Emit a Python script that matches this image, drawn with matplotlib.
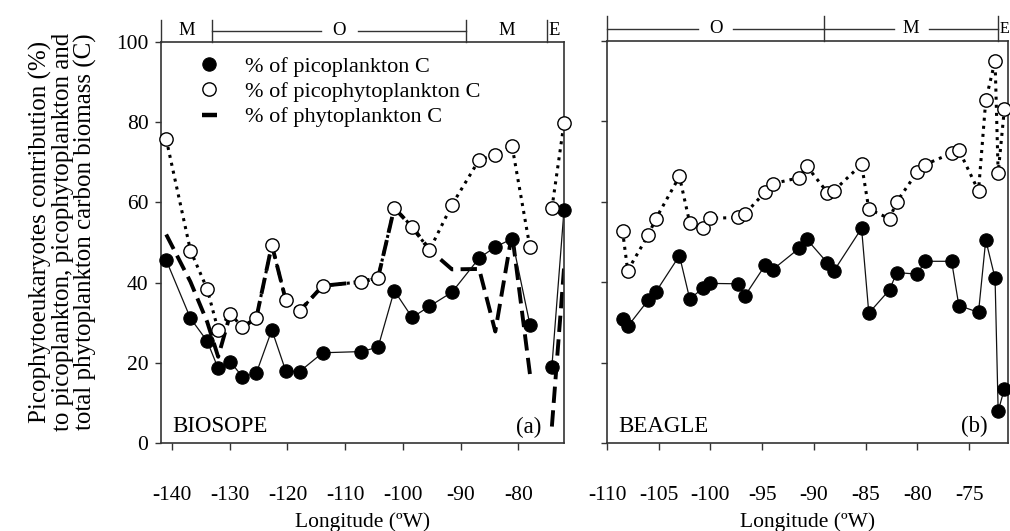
import matplotlib
matplotlib.use('Agg')
import matplotlib.pyplot as plt
import numpy as np
from matplotlib.lines import Line2D

plt.rcParams['font.family'] = ['Liberation Serif', 'DejaVu Serif']
plt.rcParams['axes.unicode_minus'] = False

# ---------------- data ----------------
# (a) BIOSOPE
lon_a = [-141.0, -136.8, -133.9, -132.0, -129.9, -127.8, -125.4, -122.7, -120.3,
         -117.9, -113.9, -107.2, -104.3, -101.5, -98.4, -95.4, -91.5, -86.8,
         -84.0, -81.1, -78.0, -74.2, -72.1]
pico_a = [45.6, 31.1, 25.4, 18.6, 20.3, 16.5, 17.4, 28.2, 18.0, 17.8, 22.5, 22.8,
          23.9, 38.0, 31.3, 34.1, 37.6, 46.1, 48.9, 50.9, 29.5, 19.0, 58.1]
picophyto_a = [75.8, 48.0, 38.4, 28.1, 32.2, 28.9, 31.1, 49.4, 35.7, 32.9, 39.2,
               40.2, 41.2, 58.7, 53.9, 48.1, 59.4, 70.6, 71.8, 74.1, 48.8, 58.5, 79.7]
phyto_a = [52.0, 40.2, 30.2, 21.5, 32.2, 28.9, 31.1, 49.4, 35.7, 32.9, 39.2, 40.2,
           41.2, 58.6, 53.9, 48.2, 43.3, 43.4, 27.8, 52.3, 17.2, 4.1, 43.5]
gap_lon_a = -76.0   # sampling gap: lines are broken here

# (b) BEAGLE
lon_b = [-108.5, -108.0, -106.0, -105.3, -103.0, -102.0, -100.7, -100.0, -97.3,
         -96.7, -94.7, -94.0, -91.4, -90.7, -88.7, -88.1, -85.4, -84.7, -82.7,
         -82.0, -80.0, -79.3, -76.7, -76.0, -74.1, -73.4, -72.5, -72.2, -71.6]
pico_b = [30.9, 29.0, 35.6, 37.5, 46.6, 35.8, 38.6, 39.7, 39.6, 36.5, 44.3, 43.1,
          48.5, 50.7, 44.8, 42.7, 53.4, 32.3, 38.1, 42.4, 42.0, 45.2, 45.2, 34.2,
          32.5, 50.5, 41.0, 7.9, 13.5]
picophyto_b = [52.8, 42.9, 51.8, 55.7, 66.3, 54.7, 53.4, 55.9, 56.1, 56.9, 62.5,
               64.5, 66.0, 68.9, 62.3, 62.7, 69.3, 58.2, 55.8, 60.0, 67.5, 69.2,
               72.1, 72.9, 62.7, 85.2, 95.1, 67.2, 83.1]

# water-mass bands on top (boundaries in longitude, labels)
bands_a_edges = [-133.0, -89.0, -75.0]
bands_a_labels = ['M', 'O', 'M', 'E']
bands_a_lines = [False, True, False, False]
bands_b_edges = [-89.0, -72.2]
bands_b_labels = ['O', 'M', 'E']
bands_b_lines = [True, True, False]

xticks_a = [-140, -130, -120, -110, -100, -90, -80]
xticks_b = [-110, -105, -100, -95, -90, -85, -80, -75]
yticks = [0, 20, 40, 60, 80, 100]

labels = ['% of picoplankton C', '% of picophytoplankton C', '% of phytoplankton C']
ylabel = ('Picophytoeukaryotes contribution (%)\n'
          'to picoplankton, picophytoplankton and\n'
          'total phytoplankton carbon biomass (C)')
xlabel = 'Longitude (ºW)'

# ---------------- figure ----------------
W, H = 1010, 531
fig = plt.figure(figsize=(W / 100, H / 100), dpi=100)


def rect(l, t, r, b):
    return [l / W, 1 - b / H, (r - l) / W, (b - t) / H]


axA = fig.add_axes(rect(161, 42, 564, 443))
axB = fig.add_axes(rect(607, 41, 1008, 443))

FS = 15.5
MS = 9.6
DOT = dict(ls=':', lw=2.2, color='black')
DASH = dict(ls=(0, (4.2, 1.9)), lw=2.8, color='black', dash_capstyle='butt')
SOLID = dict(ls='-', lw=0.9, color='#111111')
FILLED = dict(marker='o', ms=MS, mfc='black', mec='black', mew=0.8, ls='none')
OPEN = dict(marker='o', ms=MS, mfc='white', mec='black', mew=1.0, ls='none')


def split(lon, vals, gap):
    lon = np.asarray(lon, float)
    vals = np.asarray(vals, float)
    if gap is None:
        return [(lon, vals)]
    w = lon < gap
    return [(lon[w], vals[w]), (lon[~w], vals[~w])]


def draw(ax, lon, pico, picophyto, phyto, gap):
    if phyto is not None:
        for x, y in split(lon, phyto, gap):
            ax.plot(x, y, zorder=2, **DASH)
    for x, y in split(lon, picophyto, gap):
        ax.plot(x, y, zorder=2.2, **DOT)
    for x, y in split(lon, pico, gap):
        ax.plot(x, y, zorder=2.4, **SOLID)
    ax.plot(lon, pico, zorder=3, clip_on=False, **FILLED)
    ax.plot(lon, picophyto, zorder=3.2, clip_on=False, **OPEN)


draw(axA, lon_a, pico_a, picophyto_a, phyto_a, gap_lon_a)
draw(axB, lon_b, pico_b, picophyto_b, None, None)

axA.set_xlim(-141.9, -72.1)
axB.set_xlim(-110.0, -71.25)
for ax in (axA, axB):
    ax.set_ylim(0, 100)
    ax.set_yticks(yticks)
    for s in ax.spines.values():
        s.set_linewidth(1.2)
        s.set_color('#333333')
    ax.tick_params(axis='x', direction='out', length=5, width=1.0, pad=26,
                   labelsize=FS, color='#333333')
    ax.tick_params(axis='y', direction='out', length=4, width=1.0, pad=5,
                   labelsize=FS, color='#333333')

axA.set_xticks(xticks_a)
axA.set_xticklabels([str(v) for v in xticks_a])
axA.set_yticklabels([str(v) for v in yticks])
axB.set_xticks(xticks_b)
axB.set_xticklabels([str(v) for v in xticks_b])
axB.set_yticklabels([])

# panel names
PFS = 16.5
axA.text(0.027, 0.040, 'BIOSOPE', transform=axA.transAxes, fontsize=PFS,
         ha='left', va='center')
axA.text(0.945, 0.040, '(a)', transform=axA.transAxes, fontsize=PFS,
         ha='right', va='center')
axB.text(0.027, 0.040, 'BEAGLE', transform=axB.transAxes, fontsize=PFS,
         ha='left', va='center')
axB.text(0.950, 0.040, '(b)', transform=axB.transAxes, fontsize=PFS,
         ha='right', va='center')

# legend
handles = [Line2D([], [], **FILLED),
           Line2D([], [], **OPEN),
           Line2D([], [], ls='-', lw=3.2, color='black', solid_capstyle='butt')]
axA.legend(handles, labels, loc='upper left', bbox_to_anchor=(0.101, 0.965),
           frameon=False, fontsize=16, handlelength=0.7, handletextpad=1.25,
           labelspacing=0.22, borderpad=0, borderaxespad=0)


# water-mass bands above panels
BFS = 13.5


def bands(ax, edges, labs, lines, px_per_unit, gap_px, y_line, y_top, e_fs):
    x0, x1 = ax.get_xlim()
    trans = ax.get_xaxis_transform()
    bounds = [x0] + list(edges) + [x1]
    kw = dict(transform=trans, clip_on=False, color='#333333', lw=1.0)
    for e in [x0] + list(edges):
        ax.plot([e, e], [1.0, y_top], **kw)
    for i, lab in enumerate(labs):
        a, b = bounds[i], bounds[i + 1]
        if lab == 'E':
            ax.text(a + 1.2 / px_per_unit, y_line, lab, transform=trans,
                    ha='left', va='center', fontsize=e_fs)
            continue
        c = 0.5 * (a + b)
        ax.text(c, y_line, lab, transform=trans, ha='center', va='center',
                fontsize=BFS)
        if lines[i]:
            g = gap_px / px_per_unit
            ax.plot([a, c - g], [y_line, y_line], **kw)
            ax.plot([c + g, b], [y_line, y_line], **kw)


bands(axA, bands_a_edges, bands_a_labels, bands_a_lines, 5.78, 18.5, 1.028, 1.056,
      BFS)
bands(axB, bands_b_edges, bands_b_labels, bands_b_lines, 10.36, 17.5, 1.030, 1.063,
      11.5)

# axis labels
fig.text(63 / W, 1 - 232 / H, ylabel, rotation=90, ha='center', va='center',
         multialignment='center', fontsize=18, linespacing=1.0)
fig.text(362.5 / W, 4 / H, xlabel, ha='center', va='baseline', fontsize=FS)
fig.text(807.5 / W, 4 / H, xlabel, ha='center', va='baseline', fontsize=FS)

fig.savefig('out.png', dpi=100)
